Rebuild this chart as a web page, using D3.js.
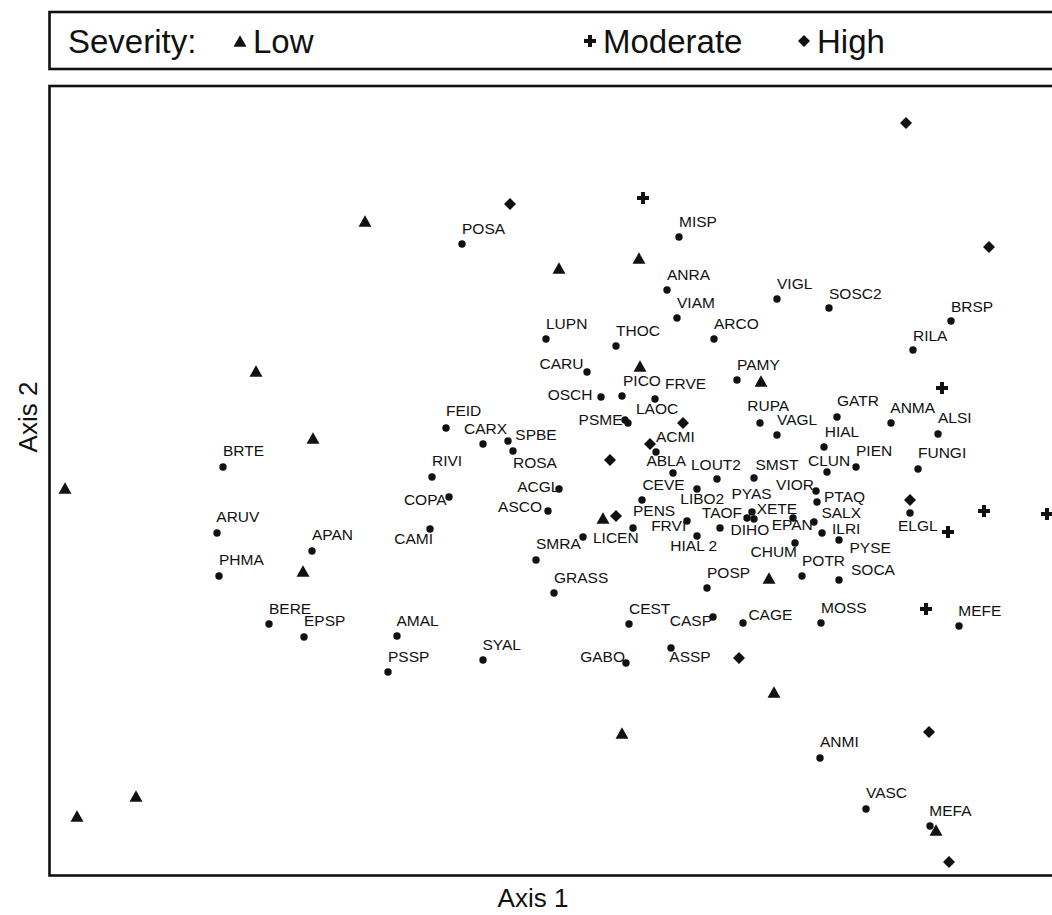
<!DOCTYPE html>
<html><head><meta charset="utf-8">
<script src="https://cdn.jsdelivr.net/npm/d3@7"></script>
<style>
body{margin:0;background:#fff}
text{font-family:"Liberation Sans",Arial,Helvetica,sans-serif;fill:#111}
</style>
</head><body>
<svg id="chart" width="1052" height="915"></svg>
<script>
// ---------- DATA (axis scores, arbitrary NMS units) ----------
const speciesNames = ["POSA","MISP","ANRA","VIAM","VIGL","SOSC2","BRSP","LUPN","THOC","ARCO","RILA","CARU","PAMY","PICO","FRVE","OSCH","PSME","LAOC","ACMI","ABLA","LOUT2","SMST","CLUN","HIAL","PIEN","FUNGI","GATR","ANMA","ALSI","RUPA","VAGL","FEID","CARX","SPBE","ROSA","RIVI","COPA","ACGL","ASCO","CAMI","SMRA","LICEN","PENS","CEVE","LIBO2","FRVI","PYAS","TAOF","XETE","DIHO","HIAL 2","EPAN","VIOR","PTAQ","SALX","ILRI","PYSE","CHUM","POTR","SOCA","POSP","GRASS","ELGL","BRTE","ARUV","APAN","PHMA","BERE","EPSP","AMAL","PSSP","SYAL","CEST","CASP","CAGE","MOSS","MEFE","GABO","ASSP","ANMI","VASC","MEFA"];
const speciesAxis1 = [412,629,617,627,727,779,901,496,566,664,863,537,687,572,605,551,575,578,606,623,667,704,777,774,806,868,787,841,888,710,727,396,433,458,463,382,399,509,498,380,486,533,583,592,647,637,702,697,704,670,647,743,766,767,764,772,789,745,752,789,657,504,860,173,167,262,169,219,254,347,338,433,579,663,693,771,909,576,621,770,816,880];
const speciesAxis2 = [632,639,586,558,577,568,555,537,530,537,526,504,496,480,477,479,456,453,424,403,397,398,404,429,409,407,459,453,442,453,441,448,432,435,425,399,379,387,365,347,316,339,348,376,387,355,364,358,357,348,340,358,385,374,354,343,336,333,300,296,288,283,363,409,343,325,300,252,239,240,204,216,252,259,253,253,250,213,228,118,67,50];

const lowAxis1 = [315,509,589,590,711,206,263,15,253,553,719,724,572,86,27,886];
const lowAxis2 = [655,608,618,510,495,505,438,388,305,358,298,184,143,80,60,46];
const moderateAxis1 = [593,892,934,997,898,876];
const moderateAxis2 = [678,488,365,362,344,267];
const highAxis1 = [460,856,939,633,600,560,566,860,689,879,899];
const highAxis2 = [672,753,629,453,432,416,360,376,218,144,14];

const severityLevels = ["Low","Moderate","High"];
const legendTitle = "Severity:";
const axisTitles = ["Axis 1","Axis 2"];

// ---------- LAYOUT ----------
const legendSymbolX = {"Low":240,"Moderate":590,"High":804};
// label placement: dx, dy, anchor (default 0, -10, start)
const labelLayout = {
  "SOSC2":[0,-9],"BRSP":[0,-9],"RILA":[0,-9],
  "CARU":[-3.5,-3,"end"],"PICO":[1,-10.5],"FRVE":[10,-10],"OSCH":[-8.5,2.5,"end"],
  "PSME":[-2.5,5,"end"],"LAOC":[8,-9],"ACMI":[0,-10.5],"ABLA":[-26.6,-7.3],
  "LOUT2":[-26,-9],"SMST":[1.5,-8.4],"CLUN":[-19,-6.3],"HIAL":[0.7,-10.2],
  "PIEN":[0,-10.7],"FUNGI":[0,-10.6],"GATR":[0,-10.7],"ANMA":[-0.7,-10],"ALSI":[0,-11.3],
  "RUPA":[-12.7,-11.6],"FEID":[0,-11.6],"CARX":[-19,-9.7],"SPBE":[7.3,-0.7],"ROSA":[0,16.6],
  "RIVI":[0,-10.7],"COPA":[-2.3,8.3,"end"],"ACGL":[0.5,3.4,"end"],"ASCO":[-6,0.7,"end"],
  "CAMI":[3,15,"end"],"SMRA":[0,-10.7],"LICEN":[10,6],"PENS":[0,-12],"CEVE":[0.4,-10.4],
  "LIBO2":[-16.7,14.6],"FRVI":[-0.8,10,"end"],"PYAS":[-20.6,-12.9],"TAOF":[-5,-0.5,"end"],
  "XETE":[2.7,-5.3],"DIHO":[10.5,7.2],"HIAL 2":[-26.7,15],"EPAN":[-21.3,12],
  "VIOR":[-2,-0.7,"end"],"PTAQ":[7,-0.2],"SALX":[7.4,-3.7],"ILRI":[10,0.6],"PYSE":[10.5,12.6],
  "CHUM":[-44.5,14],"POTR":[0,-10.5],"SOCA":[12,-5],"GRASS":[0,-10.3],"ELGL":[-12,18],
  "BRTE":[0,-10.7],"ARUV":[-0.7,-11],"APAN":[0,-11],"PHMA":[0,-10.7],"EPSP":[0,-10.6],
  "AMAL":[-0.6,-10.3],"SYAL":[-0.6,-10],"CASP":[-1,9.4,"end"],"CAGE":[5.4,-2.7],
  "MEFE":[-0.7,-10],"GABO":[-1,-1,"end"],"ASSP":[-1.7,14.4],"ANMI":[0,-11],"VASC":[0,-11],
  "MEFA":[-0.7,-10]
};

// ---------- DRAW ----------
const svg = d3.select("#chart");
svg.append("rect").attr("width",1052).attr("height",915).attr("fill","#fff");

const x = d3.scaleLinear().domain([0,1000]).range([50,1050]);
const y = d3.scaleLinear().domain([0,790]).range([876,86]);

// triangle centred on its bounding box
const triBox = {draw(ctx,size){const s=Math.sqrt(size),h=s*Math.sqrt(3)/2;ctx.moveTo(0,-h/2);ctx.lineTo(s/2,h/2);ctx.lineTo(-s/2,h/2);ctx.closePath();}};
const symbolFor = {
  "Low": d3.symbol().type(triBox).size(169)(),
  "Moderate": d3.symbol().type(d3.symbolCross).size(80)(),
  "High": d3.symbol().type(d3.symbolDiamond2).size(92)()
};

// legend box
svg.append("rect").attr("x",49.5).attr("y",12).attr("width",1030).attr("height",57)
  .attr("fill","none").attr("stroke","#111").attr("stroke-width",2.6);
svg.append("text").attr("x",68).attr("y",52.5).attr("font-size",33).text(legendTitle);
const lg = svg.append("g").selectAll("g").data(severityLevels).join("g")
  .attr("transform",d=>`translate(${legendSymbolX[d]},41)`);
lg.append("path").attr("d",d=>symbolFor[d]).attr("fill","#111");
lg.append("text").attr("x",13).attr("y",11.5).attr("font-size",33).text(d=>d);

// plot frame
svg.append("rect").attr("x",49.5).attr("y",86).attr("width",1030).attr("height",789.5)
  .attr("fill","none").attr("stroke","#111").attr("stroke-width",2.6);

// species
const species = speciesNames.map((n,i)=>({name:n,a1:speciesAxis1[i],a2:speciesAxis2[i]}));
const sg = svg.append("g");
sg.selectAll("circle").data(species).join("circle")
  .attr("cx",d=>x(d.a1)).attr("cy",d=>y(d.a2)).attr("r",3.7).attr("fill","#111");
sg.selectAll("text").data(species).join("text")
  .attr("font-size",15.5)
  .attr("x",d=>x(d.a1)+(labelLayout[d.name]?labelLayout[d.name][0]:0))
  .attr("y",d=>y(d.a2)+(labelLayout[d.name]?labelLayout[d.name][1]:-10))
  .attr("text-anchor",d=>(labelLayout[d.name]&&labelLayout[d.name][2])||"start")
  .text(d=>d.name);

// sample units by severity
const sites = [
  ...lowAxis1.map((v,i)=>({sev:"Low",a1:v,a2:lowAxis2[i]})),
  ...moderateAxis1.map((v,i)=>({sev:"Moderate",a1:v,a2:moderateAxis2[i]})),
  ...highAxis1.map((v,i)=>({sev:"High",a1:v,a2:highAxis2[i]}))
];
svg.append("g").selectAll("path").data(sites).join("path")
  .attr("transform",d=>`translate(${x(d.a1)},${y(d.a2)})`)
  .attr("d",d=>symbolFor[d.sev]).attr("fill","#111");

// axis titles
svg.append("text").attr("x",533).attr("y",907).attr("text-anchor","middle").attr("font-size",26).text(axisTitles[0]);
svg.append("text").attr("transform","translate(37,417) rotate(-90)").attr("text-anchor","middle").attr("font-size",26).text(axisTitles[1]);
</script>
</body></html>
